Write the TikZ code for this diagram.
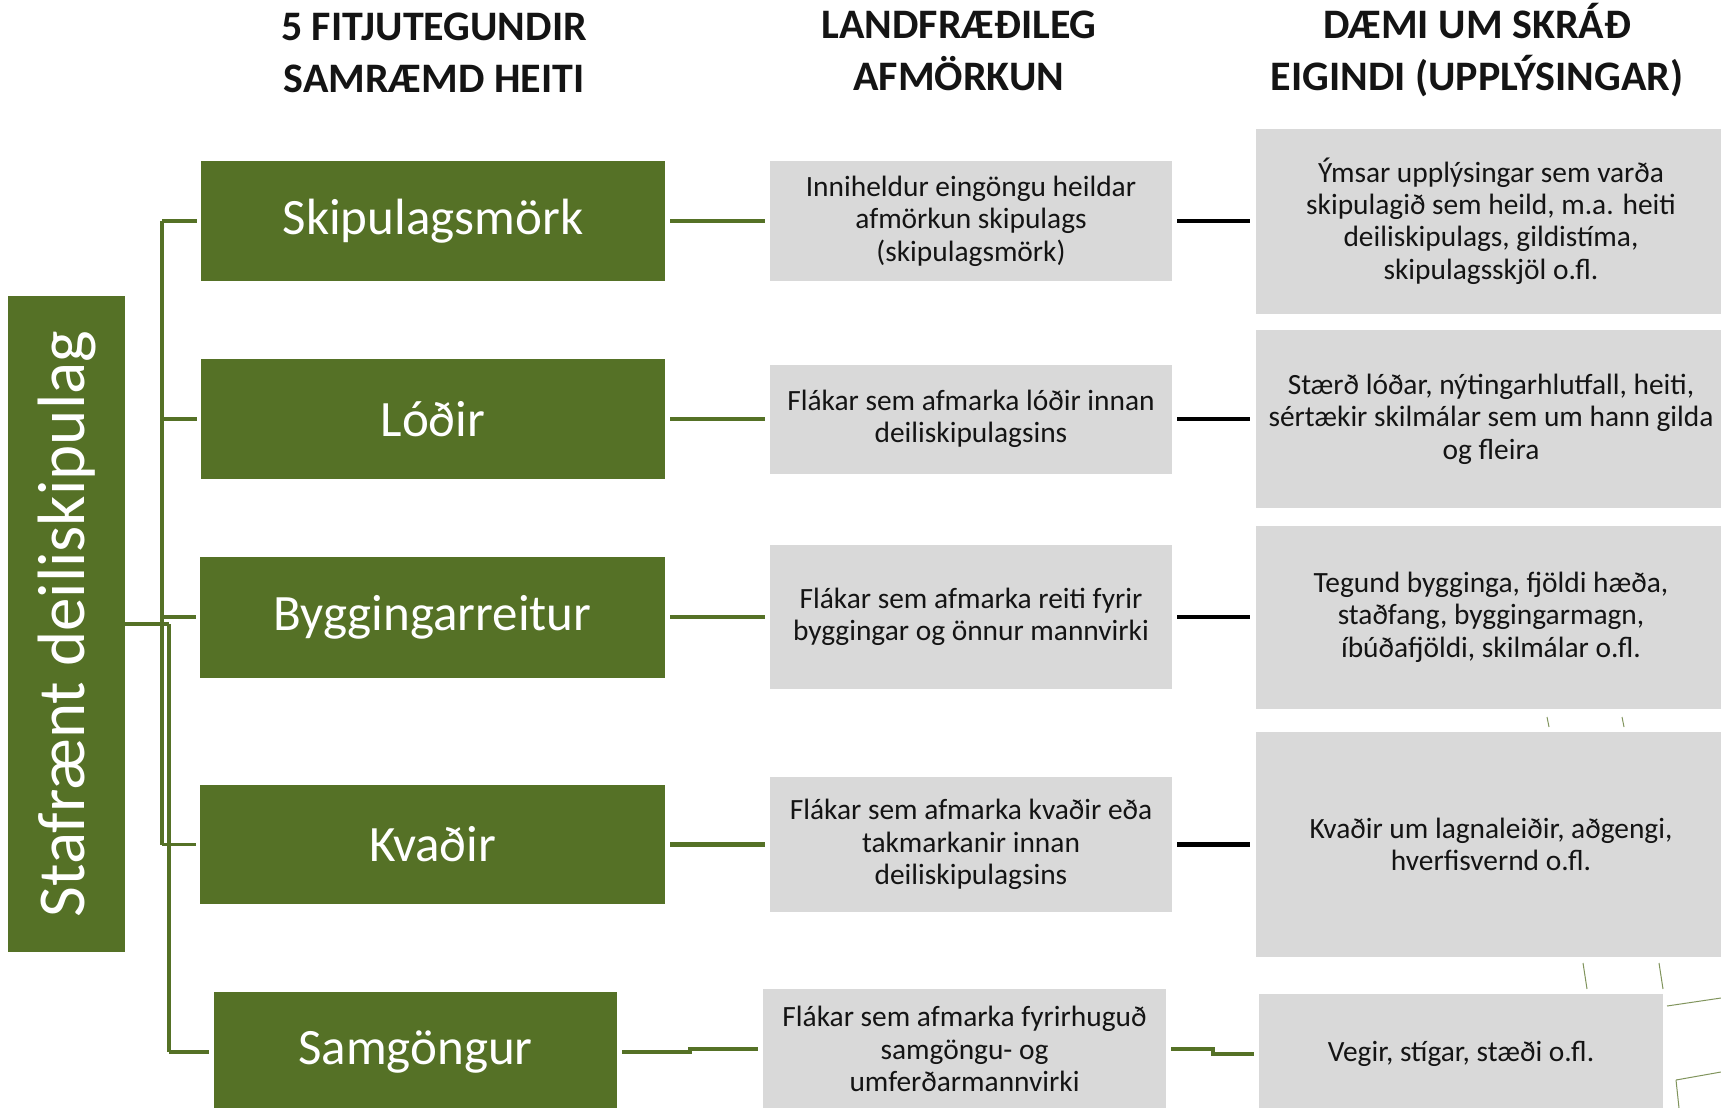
\documentclass[tikz,border=0pt]{standalone}
\usepackage{fontspec}
\setmainfont{Carlito}
\definecolor{leafgreen}{RGB}{85,113,38}
\definecolor{boxgrey}{RGB}{217,217,217}
\definecolor{inkgrey}{RGB}{20,20,20}

\begin{document}
\begin{tikzpicture}[x=1pt, y=-1pt,
    head/.style={font=\bfseries\fontsize{42}{52}\selectfont, align=center, text=inkgrey},
    feature/.style={fill=leafgreen, text=white, inner sep=0pt, font=\fontsize{51}{60}\selectfont},
    geombox/.style={fill=boxgrey, text=inkgrey, inner sep=0pt, align=center, font=\fontsize{29.4}{32.4}\selectfont},
    tree/.style={leafgreen, line width=3.5pt},
    link/.style={leafgreen, line width=4.5pt, shorten <=5pt, shorten >=5pt},
    attrlink/.style={black, line width=4.5pt, shorten <=5pt, shorten >=6pt},
    stray/.style={leafgreen!75, line width=1pt}]
    \useasboundingbox (0,0) rectangle (1721,1108);
    \clip (0,0) rectangle (1721,1108);
    % headings
    \node[head] (h1) at (434,53) {5 FITJUTEGUNDIR\\SAMRÆMD HEITI};
    \node[head] (h2) at (959,50.5) {LANDFRÆÐILEG\\AFMÖRKUN};
    \node[head] (h3) at (1477,50.5) {DÆMI UM SKRÁÐ\\EIGINDI (UPPLÝSINGAR)};
    % root
    \node[fill=leafgreen, inner sep=0pt, minimum width=117pt, minimum height=656pt] (root) at (66.5,624) {};
    \node[rotate=90, text=white, font=\fontsize{67}{72}\selectfont] (rootlabel) at (root.center) {Stafrænt deiliskipulag};
    % feature types
    \node[feature, minimum width=464pt, minimum height=120pt] (f1) at (433,221) {Skipulagsmörk};
    \node[feature, minimum width=464pt, minimum height=120pt] (f2) at (433,419) {Lóðir};
    \node[feature, minimum width=465pt, minimum height=121pt] (f3) at (432.5,617) {Byggingarreitur};
    \node[feature, minimum width=465pt, minimum height=119pt] (f4) at (432.5,844.5) {Kvaðir};
    \node[feature, minimum width=403pt, minimum height=120pt] (f5) at (415.5,1052) {Samgöngur};
    % geometry
    \node[geombox, minimum width=402pt, minimum height=120pt] (m1) at (971,221) {Inniheldur eingöngu heildar\\afmörkun skipulags\\(skipulagsmörk)};
    \node[geombox, minimum width=402pt, minimum height=109pt] (m2) at (971,419) {Flákar sem afmarka lóðir innan\\deiliskipulagsins};
    \node[geombox, minimum width=402pt, minimum height=144pt] (m3) at (971,617) {Flákar sem afmarka reiti fyrir\\byggingar og önnur mannvirki};
    \node[geombox, minimum width=402pt, minimum height=135pt] (m4) at (971,844.5) {Flákar sem afmarka kvaðir eða\\takmarkanir innan\\deiliskipulagsins};
    \node[geombox, minimum width=403pt, minimum height=120pt] (m5) at (964.5,1049) {Flákar sem afmarka fyrirhuguð\\samgöngu- og\\umferðarmannvirki};
    % attributes
    \node[geombox, minimum width=470pt, minimum height=185pt] (a1) at (1491,221) {Ýmsar upplýsingar sem varða\\skipulagið sem heild, m.a. heiti\\deiliskipulags, gildistíma,\\skipulagsskjöl o.fl.};
    \node[geombox, minimum width=470pt, minimum height=178pt] (a2) at (1491,419) {Stærð lóðar, nýtingarhlutfall, heiti,\\sértækir skilmálar sem um hann gilda\\og fleira};
    \node[geombox, minimum width=470pt, minimum height=183pt] (a3) at (1491,617) {Tegund bygginga, fjöldi hæða,\\staðfang, byggingarmagn,\\íbúðafjöldi, skilmálar o.fl.};
    \node[geombox, minimum width=470pt, minimum height=225pt] (a4) at (1491,844.5) {Kvaðir um lagnaleiðir, aðgengi,\\hverfisvernd o.fl.};
    \node[geombox, minimum width=404pt, minimum height=120pt] (a5) at (1461,1054) {Vegir, stígar, stæði o.fl.};
    % tree
    \coordinate (busA) at (162,0);
    \coordinate (busB) at (169,0);
    \draw[tree] (root.east) -- (root.east -| busB);
    \draw[tree] (f1.west -| busA) -- (f4.west -| busA);
    \draw[tree] (root.east -| busB) -- (f5.west -| busB);
    \foreach \f in {f1,f2,f3,f4}
        \draw[tree] (\f.west -| busA) -- ([xshift=-4pt]\f.west);
    \draw[tree] (f5.west -| busB) -- ([xshift=-5pt]f5.west);
    % feature to geometry
    \foreach \i in {1,2,3,4}
        \draw[link] (f\i) -- (m\i);
    \draw[link] (f5.east) -| ([xshift=-73pt]m5.west) -- (m5.west);
    % geometry to attributes
    \foreach \i in {1,2,3,4}
        \draw[attrlink] (m\i) -- (a\i);
    \draw[link] (m5.east) -| ([xshift=-46pt]a5.west) -- (a5.west);
    % stray marks
    \draw[stray] (1547,717) -- (1549,727);
    \draw[stray] (1622,717) -- (1624,727);
    \draw[stray] (1583,963) -- (1587,989);
    \draw[stray] (1659,963) -- (1663,989);
    \draw[stray] (1667,1006) -- (1721,998);
    \draw[stray] (1676,1080) -- (1721,1072);
    \draw[stray] (1676,1080) -- (1679,1108);
\end{tikzpicture}
\end{document}
